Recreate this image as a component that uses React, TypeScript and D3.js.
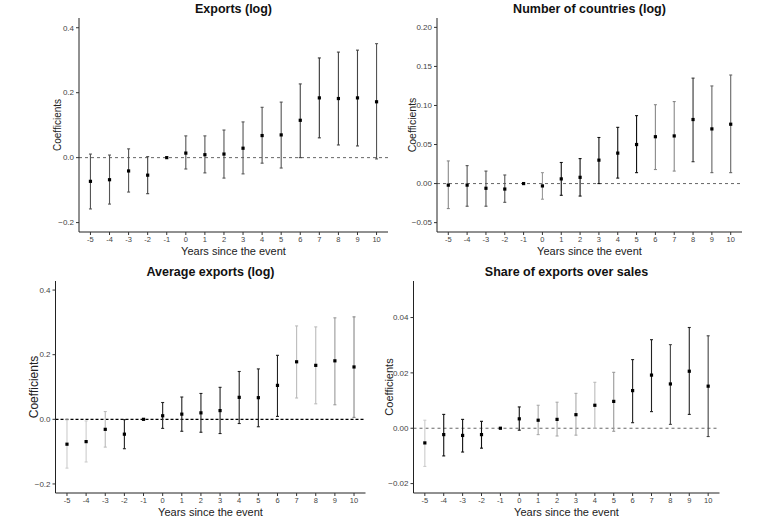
import React from "react";
import * as d3 from "d3";

const years = [-5, -4, -3, -2, -1, 0, 1, 2, 3, 4, 5, 6, 7, 8, 9, 10];

// Panel 1: Exports (log)
const exportsEst = [-0.073, -0.068, -0.041, -0.054, 0, 0.014, 0.009, 0.011, 0.029, 0.068, 0.07, 0.115, 0.184, 0.182, 0.184, 0.172];
const exportsHi = [0.011, 0.008, 0.027, 0.003, 0, 0.067, 0.067, 0.085, 0.11, 0.155, 0.171, 0.227, 0.307, 0.325, 0.331, 0.351];
const exportsLo = [-0.158, -0.143, -0.106, -0.111, 0, -0.035, -0.047, -0.063, -0.05, -0.017, -0.032, 0.0, 0.061, 0.039, 0.036, -0.004];

// Panel 2: Number of countries (log)
const countriesEst = [-0.002, -0.002, -0.006, -0.007, 0, -0.003, 0.006, 0.008, 0.03, 0.039, 0.05, 0.06, 0.061, 0.082, 0.07, 0.076];
const countriesHi = [0.029, 0.023, 0.016, 0.011, 0, 0.014, 0.027, 0.032, 0.059, 0.072, 0.087, 0.101, 0.105, 0.135, 0.125, 0.139];
const countriesLo = [-0.032, -0.029, -0.029, -0.024, 0, -0.02, -0.015, -0.016, 0.0, 0.007, 0.014, 0.018, 0.016, 0.028, 0.014, 0.014];

// Panel 3: Average exports (log)
const avgEst = [-0.077, -0.069, -0.031, -0.046, 0, 0.011, 0.016, 0.02, 0.027, 0.068, 0.067, 0.105, 0.178, 0.167, 0.181, 0.162];
const avgHi = [-0.002, -0.005, 0.024, -0.001, 0, 0.052, 0.069, 0.08, 0.099, 0.148, 0.156, 0.198, 0.289, 0.286, 0.314, 0.317];
const avgLo = [-0.151, -0.132, -0.086, -0.091, 0, -0.028, -0.037, -0.04, -0.044, -0.013, -0.023, 0.009, 0.066, 0.048, 0.045, 0.006];

// Panel 4: Share of exports over sales
const shareEst = [-0.0053, -0.0023, -0.0026, -0.0023, 0, 0.0034, 0.0029, 0.0032, 0.0049, 0.0083, 0.0097, 0.0136, 0.0192, 0.016, 0.0206, 0.0152];
const shareHi = [0.0029, 0.005, 0.0032, 0.0025, 0, 0.0077, 0.0083, 0.0094, 0.0126, 0.0166, 0.0202, 0.0248, 0.032, 0.0302, 0.0364, 0.0334];
const shareLo = [-0.0138, -0.01, -0.0086, -0.0072, 0, -0.0007, -0.0023, -0.0028, -0.0025, 0.0, -0.0011, 0.002, 0.006, 0.0014, 0.005, -0.003];

const titles = ["Exports (log)", "Number of countries (log)", "Average exports (log)", "Share of exports over sales"];
const yTicks1 = [-0.2, 0, 0.2, 0.4];
const yTicks2 = [-0.05, 0, 0.05, 0.1, 0.15, 0.2];
const yTicks3 = [-0.2, 0, 0.2, 0.4];
const yTicks4 = [-0.02, 0, 0.02, 0.04];
const xTitle = "Years since the event";
const yTitle = "Coefficients";

// style: bar shades (rendering look of the reference)
const shades1 = ["#555", "#555", "#555", "#444", "#444", "#555", "#555", "#555", "#555", "#555", "#555", "#444", "#333", "#444", "#444", "#555"];
const shades2 = ["#888", "#555", "#555", "#555", "#444", "#999", "#111", "#111", "#111", "#111", "#111", "#888", "#888", "#333", "#666", "#666"];
const shades3 = ["#ccc", "#ccc", "#bbb", "#222", "#222", "#222", "#222", "#222", "#222", "#222", "#222", "#222", "#bbb", "#bbb", "#999", "#888"];
const shades4 = ["#ccc", "#111", "#111", "#111", "#111", "#111", "#aaa", "#aaa", "#aaa", "#bbb", "#999", "#222", "#222", "#444", "#222", "#444"];

type PanelCfg = {
  est: number[]; hi: number[]; lo: number[]; title: string; ticks: number[]; fmt: string;
  x0: number; x1: number; yTop: number; yBot: number; dom: [number, number];
  shades: string[]; yLabX: number; yLabSize: number; zeroColor: string; zeroDash: string; zeroW: number;
  xTitleSize: number;
};

const panels: PanelCfg[] = [
  { est: exportsEst, hi: exportsHi, lo: exportsLo, title: titles[0], ticks: yTicks1, fmt: ".1f",
    x0: 79, x1: 388, yTop: 18, yBot: 232, dom: [-0.229, 0.43], shades: shades1, yLabX: 61, yLabSize: 10,
    zeroColor: "#666", zeroDash: "3,3", zeroW: 1, xTitleSize: 11 },
  { est: countriesEst, hi: countriesHi, lo: countriesLo, title: titles[1], ticks: yTicks2, fmt: ".2f",
    x0: 437, x1: 742, yTop: 18, yBot: 232, dom: [-0.062, 0.212], shades: shades2, yLabX: 416, yLabSize: 10.5,
    zeroColor: "#666", zeroDash: "3,3", zeroW: 1, xTitleSize: 11 },
  { est: avgEst, hi: avgHi, lo: avgLo, title: titles[2], ticks: yTicks3, fmt: ".1f",
    x0: 55.5, x1: 365.5, yTop: 281, yBot: 493, dom: [-0.228, 0.428], shades: shades3, yLabX: 38, yLabSize: 12,
    zeroColor: "#000", zeroDash: "3,2", zeroW: 1.3, xTitleSize: 11 },
  { est: shareEst, hi: shareHi, lo: shareLo, title: titles[3], ticks: yTicks4, fmt: ".2f",
    x0: 413.5, x1: 719.5, yTop: 281, yBot: 493, dom: [-0.0234, 0.0532], shades: shades4, yLabX: 393, yLabSize: 11,
    zeroColor: "#666", zeroDash: "3,3", zeroW: 1, xTitleSize: 11 },
];

const FONT = "'Liberation Sans', Arial, sans-serif";

function Panel({ p }: { p: PanelCfg }) {
  const x = d3.scalePoint<number>().domain(years).range([p.x0, p.x1]).padding(0.6);
  const y = d3.scaleLinear().domain(p.dom).range([p.yBot, p.yTop]);
  const f = d3.format(p.fmt);
  const cx = (p.x0 + p.x1) / 2;
  const cy = (p.yTop + p.yBot) / 2;
  return (
    <g>
      <text x={cx} y={p.yTop - 5} textAnchor="middle" fontFamily={FONT} fontWeight="bold" fontSize={12.5} fill="#111">{p.title}</text>
      {/* zero line */}
      <line x1={p.x0} x2={p.x1} y1={y(0)} y2={y(0)} stroke={p.zeroColor} strokeWidth={p.zeroW} strokeDasharray={p.zeroDash} />
      {/* error bars */}
      {years.map((yr, i) => {
        const xx = x(yr)!;
        if (p.hi[i] === p.lo[i]) return null;
        return (
          <g key={yr} stroke={p.shades[i]} strokeWidth={1.1}>
            <line x1={xx} x2={xx} y1={y(p.hi[i])} y2={y(p.lo[i])} />
            <line x1={xx - 1.5} x2={xx + 1.5} y1={y(p.hi[i])} y2={y(p.hi[i])} />
            <line x1={xx - 1.5} x2={xx + 1.5} y1={y(p.lo[i])} y2={y(p.lo[i])} />
          </g>
        );
      })}
      {years.map((yr, i) => (
        <rect key={"p" + yr} x={x(yr)! - 1.6} y={y(p.est[i]) - 1.6} width={3.2} height={3.2} fill="#000" />
      ))}
      {/* axes */}
      <line x1={p.x0} x2={p.x0} y1={p.yTop} y2={p.yBot} stroke="#222" strokeWidth={1} />
      <line x1={p.x0} x2={p.x1} y1={p.yBot} y2={p.yBot} stroke="#222" strokeWidth={1} />
      {p.ticks.map((t) => (
        <g key={"yt" + t}>
          <line x1={p.x0 - 3} x2={p.x0} y1={y(t)} y2={y(t)} stroke="#333" />
          <text x={p.x0 - 5} y={y(t)} dy="0.35em" textAnchor="end" fontFamily={FONT} fontSize={8} fill="#444">{f(t)}</text>
        </g>
      ))}
      {years.map((yr) => (
        <g key={"xt" + yr}>
          <line x1={x(yr)!} x2={x(yr)!} y1={p.yBot} y2={p.yBot + 3} stroke="#333" />
          <text x={x(yr)!} y={p.yBot + 10} textAnchor="middle" fontFamily={FONT} fontSize={7.5} fill="#444">{yr}</text>
        </g>
      ))}
      <text x={cx} y={p.yBot + 22.5} textAnchor="middle" fontFamily={FONT} fontSize={p.xTitleSize} fill="#222">{xTitle}</text>
      <text transform={`translate(${p.yLabX},${cy}) rotate(-90)`} textAnchor="middle" fontFamily={FONT} fontSize={p.yLabSize} fill="#222">{yTitle}</text>
    </g>
  );
}

export default function App() {
  return (
    <svg width={763} height={530} style={{ position: "absolute", left: 0, top: 0, background: "#fff" }}>
      <rect width={763} height={530} fill="#fff" />
      {panels.map((p, i) => <Panel key={i} p={p} />)}
    </svg>
  );
}
